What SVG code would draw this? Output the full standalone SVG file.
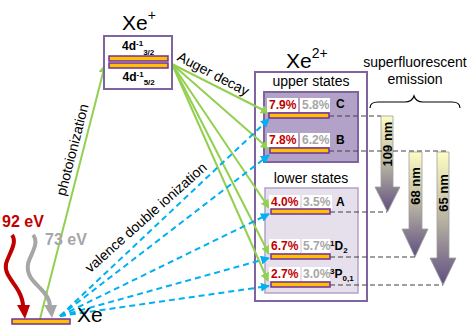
<svg xmlns="http://www.w3.org/2000/svg" width="469" height="335" viewBox="0 0 469 335">
<style>
text{font-family:"Liberation Sans",Arial,sans-serif;}
.big{font-size:21px;fill:#000;}
.lab{font-size:14px;fill:#000;}
.st{font-size:12px;font-weight:bold;}
.red{fill:#c00000;}
.gry{fill:#a6a6a6;}
.blk{fill:#000;}
.bar{fill:#ffc000;stroke:#7030a0;stroke-width:1.5;}
.wb{fill:#fff;}
.g{stroke:#92d050;stroke-width:2;fill:none;marker-end:url(#ag);}
.b{stroke:#00b0f0;stroke-width:2;fill:none;stroke-dasharray:6 4;marker-end:url(#ab);}
.d{stroke:#404040;stroke-width:1;fill:none;stroke-dasharray:5 3;}
.em{fill:url(#eg);stroke:#a0a0a0;stroke-width:0.8;}
.nm{font-size:13px;font-weight:bold;fill:#000;}
</style>
<defs>
<marker id="ag" viewBox="0 0 10 10" refX="9" refY="5" markerWidth="9" markerHeight="9" markerUnits="userSpaceOnUse" orient="auto"><path d="M0,0 L10,5 L0,10 z" fill="#92d050"/></marker>
<marker id="ab" viewBox="0 0 10 10" refX="9" refY="5" markerWidth="9" markerHeight="9" markerUnits="userSpaceOnUse" orient="auto"><path d="M0,0 L10,5 L0,10 z" fill="#00b0f0"/></marker>
<linearGradient id="eg" x1="0" y1="0" x2="0" y2="1">
<stop offset="0" stop-color="#fdfdc4"/>
<stop offset="0.5" stop-color="#b9b5a2"/>
<stop offset="1" stop-color="#5e4e80"/>
</linearGradient>
</defs>

<g id="xe2plus">
<rect x="255" y="72" width="112" height="229" fill="#fff" stroke="#8064a2" stroke-width="2"/>
<text x="286" y="68" class="big">Xe<tspan font-size="14" dy="-10">2+</tspan></text>
<text x="311" y="86" class="lab" text-anchor="middle">upper states</text>
<rect x="264" y="92" width="94" height="70" fill="#b3a2c7" stroke="#8064a2" stroke-width="2"/>
<text x="311" y="183" class="lab" text-anchor="middle">lower states</text>
<rect x="265" y="188" width="93" height="105" fill="#e5e0ec" stroke="#b3a2c7" stroke-width="1.5"/>
</g>

<g id="emission">
<text x="415" y="67" class="lab" text-anchor="middle">superfluorescent</text>
<text x="415" y="84" class="lab" text-anchor="middle">emission</text>
<path d="M370,108 Q370,102 378,102 L405,102 Q412,102 414,96 Q416,102 423,102 L452,102 Q460,102 460,108" fill="none" stroke="#000" stroke-width="1.2"/>
<path class="em" d="M381,116 H393 V187 H400 L387.5,212 L375,187 H381 Z"/>
<path class="em" d="M409,152 H422 V229 H428 L415,257 L402,229 H409 Z"/>
<path class="em" d="M437,152 H449 V258 H456 L443,285 L430,258 H437 Z"/>
<text class="nm" text-anchor="middle" transform="translate(392,144) rotate(-90)">109 nm</text>
<text class="nm" text-anchor="middle" transform="translate(420,186) rotate(-90)">68 nm</text>
<text class="nm" text-anchor="middle" transform="translate(448,193) rotate(-90)">65 nm</text>
</g>

<g id="connectors">
<path class="d" d="M329,116 H381"/>
<path class="d" d="M329,151 H449"/>
<path class="d" d="M330,212 H387"/>
<path class="d" d="M330,257 H415"/>
<path class="d" d="M330,285 H443"/>
<path class="g" d="M40,319 L105,65"/>
<path class="g" d="M172,64 L269,113"/>
<path class="g" d="M172,64 L269,149"/>
<path class="g" d="M172,64 L269,208"/>
<path class="g" d="M172,64 L269,254"/>
<path class="g" d="M172,64 L268,281"/>
<path class="b" d="M60,316 L269,119"/>
<path class="b" d="M60,316 L269,155"/>
<path class="b" d="M60,316 L269,214"/>
<path class="b" d="M60,316 L269,258"/>
<path class="b" d="M60,316 L269,286"/>
<text class="lab" text-anchor="middle" transform="translate(77,151) rotate(-75.6)">photoionization</text>
<text class="lab" text-anchor="middle" transform="translate(211,78) rotate(27.5)">Auger decay</text>
<text class="lab" text-anchor="middle" transform="translate(149,221) rotate(-41.7)">valence double ionization</text>
<path d="M12,235 C18,243 8,255 6,264 C4,274 14,282 19,292 C22,298 23,302 23,306" fill="none" stroke="#c00000" stroke-width="4"/>
<polygon points="17,305 30,305 25,319" fill="#c00000"/>
<path d="M33,235 C40,243 30,255 28,264 C26,275 34,282 40,288 C46,294 50,300 50,306" fill="none" stroke="#a6a6a6" stroke-width="4"/>
<polygon points="44,305 57,305 52,318" fill="#a6a6a6"/>
</g>

<g id="xeplus">
<text x="122" y="30" class="big">Xe<tspan font-size="14" dy="-10">+</tspan></text>
<rect x="104" y="36" width="68" height="53" fill="#fff" stroke="#8064a2" stroke-width="2"/>
<text x="122" y="50" class="st blk">4d<tspan font-size="8" dy="-4">-1</tspan><tspan font-size="8" dy="9">3/2</tspan></text>
<rect class="bar" x="109" y="56" width="59" height="5"/>
<rect class="bar" x="109" y="63" width="59" height="5"/>
<text x="122.5" y="81" class="st blk">4d<tspan font-size="8" dy="-4">-1</tspan><tspan font-size="8" dy="8">5/2</tspan></text>
</g>

<g id="state-C">
<rect class="wb" x="267" y="98" width="31" height="14"/>
<rect class="wb" x="300" y="98" width="30" height="14"/>
<text x="269" y="109" class="st red">7.9%</text>
<text x="302" y="109" class="st gry">5.8%</text>
<text x="336" y="108" class="st blk">C</text>
<rect class="bar" x="269" y="113" width="60" height="5"/>
</g>
<g id="state-B">
<rect class="wb" x="267" y="133" width="31" height="14"/>
<rect class="wb" x="300" y="133" width="30" height="14"/>
<text x="269" y="144" class="st red">7.8%</text>
<text x="302" y="144" class="st gry">6.2%</text>
<text x="336" y="144" class="st blk">B</text>
<rect class="bar" x="270" y="148" width="59" height="5"/>
</g>
<g id="state-A">
<rect class="wb" x="269" y="195" width="31" height="14"/>
<rect class="wb" x="302" y="195" width="30" height="14"/>
<text x="271" y="206" class="st red">4.0%</text>
<text x="303" y="206" class="st gry">3.5%</text>
<text x="336" y="206" class="st blk">A</text>
<rect class="bar" x="271" y="209" width="59" height="5"/>
</g>
<g id="state-1D2">
<rect class="wb" x="269" y="239" width="31" height="14"/>
<rect class="wb" x="302" y="239" width="28" height="14"/>
<text x="271" y="250" class="st red">6.7%</text>
<text x="303" y="250" class="st gry">5.7%</text>
<text x="330" y="250" class="st blk"><tspan font-size="8" dy="-4">1</tspan><tspan dy="4">D</tspan><tspan font-size="8" dy="3">2</tspan></text>
<rect class="bar" x="271" y="254" width="59" height="5"/>
</g>
<g id="state-3P01">
<rect class="wb" x="269" y="267" width="31" height="14"/>
<rect class="wb" x="302" y="267" width="28" height="14"/>
<text x="271" y="278" class="st red">2.7%</text>
<text x="303" y="278" class="st gry">3.0%</text>
<text x="330" y="278" class="st blk"><tspan font-size="8" dy="-4">3</tspan><tspan dy="4">P</tspan><tspan font-size="8" dy="3">0,1</tspan></text>
<rect class="bar" x="271" y="282" width="59" height="5"/>
</g>

<g id="xe-ground">
<rect class="bar" x="12" y="319" width="58" height="5"/>
<text x="77" y="322" class="big">Xe</text>
<text x="2" y="227" font-size="16" font-weight="bold" fill="#c00000">92 eV</text>
<text x="45" y="245" font-size="16" font-weight="bold" fill="#a6a6a6">73 eV</text>
</g>
</svg>
